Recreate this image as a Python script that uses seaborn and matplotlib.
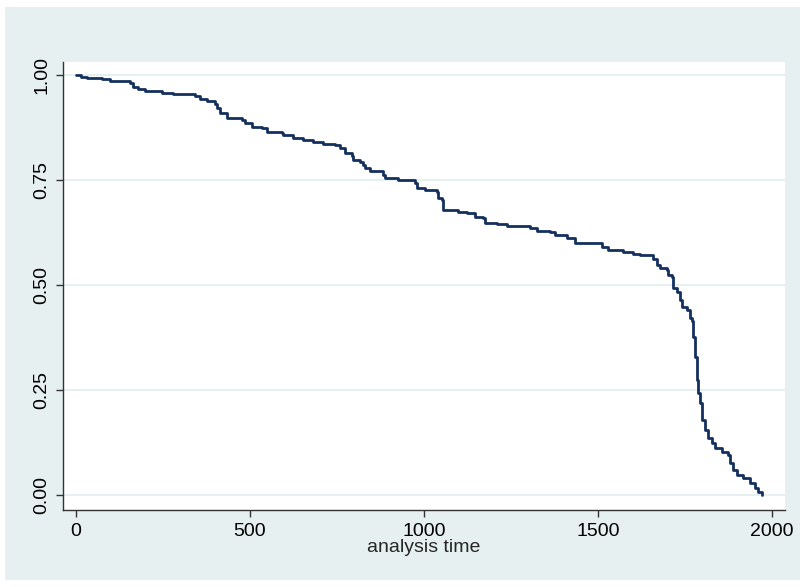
import numpy as np
import pandas as pd
import seaborn as sns
from matplotlib import pyplot as plt
from matplotlib.patches import Rectangle

# Kaplan-Meier estimate (step starts)
time = [0, 16, 31, 55, 74, 98, 155, 165, 178, 198, 247, 279, 307, 342, 356,
        376, 399, 405, 414, 434, 477, 486, 506, 534, 549, 592, 595, 624, 652,
        681, 710, 744, 759, 773, 793, 796, 816, 825, 830, 845, 882, 888, 925,
        974, 980, 1003, 1037, 1040, 1052, 1055, 1098, 1124, 1147, 1170, 1175,
        1210, 1239, 1284, 1305, 1325, 1362, 1376, 1411, 1434, 1511, 1529, 1572,
        1601, 1620, 1658, 1670, 1678, 1698, 1701, 1713, 1716, 1727, 1736, 1741,
        1756, 1764, 1770, 1773, 1779, 1784, 1787, 1793, 1799, 1807, 1816, 1828,
        1836, 1856, 1874, 1879, 1888, 1899, 1917, 1937, 1951, 1960, 1971]
survival = [1.0, 0.996, 0.994, 0.992, 0.990, 0.986, 0.982, 0.972, 0.966, 0.962,
            0.956, 0.955, 0.954, 0.950, 0.944, 0.937, 0.932, 0.921, 0.909, 0.897,
            0.893, 0.886, 0.876, 0.874, 0.864, 0.862, 0.857, 0.850, 0.845, 0.841,
            0.836, 0.833, 0.826, 0.814, 0.807, 0.798, 0.793, 0.786, 0.778, 0.772,
            0.762, 0.755, 0.750, 0.743, 0.731, 0.726, 0.722, 0.707, 0.702, 0.679,
            0.674, 0.671, 0.662, 0.660, 0.648, 0.645, 0.641, 0.640, 0.636, 0.629,
            0.626, 0.619, 0.612, 0.600, 0.590, 0.583, 0.579, 0.574, 0.571, 0.562,
            0.548, 0.540, 0.536, 0.524, 0.519, 0.493, 0.483, 0.464, 0.448, 0.440,
            0.421, 0.413, 0.376, 0.329, 0.274, 0.243, 0.219, 0.179, 0.155, 0.136,
            0.124, 0.112, 0.102, 0.095, 0.076, 0.060, 0.048, 0.040, 0.029, 0.017,
            0.007, 0.0]

x_ticks = [0, 500, 1000, 1500, 2000]
y_ticks = [0.0, 0.25, 0.5, 0.75, 1.0]
y_ticklabels = ["0.00", "0.25", "0.50", "0.75", "1.00"]

bg = "#e6f0f1"
line_col = "#14305e"

sns.set_theme(style="white")
plt.rcParams['font.family'] = ['Liberation Sans', 'DejaVu Sans']

fig = plt.figure(figsize=(8.04, 5.87), dpi=100, facecolor="white")
# stata-like graph region, behind the axes
fig.patches.append(Rectangle((5 / 804, 7 / 587), 795 / 804, 573 / 587,
                             transform=fig.transFigure, facecolor=bg,
                             edgecolor="none", zorder=-10))
ax = fig.add_axes([63 / 804, 1 - 510 / 587, 722 / 804, 448 / 587])
ax.set_facecolor("white")

df = pd.DataFrame({"analysis time": time, "S": survival})
sns.lineplot(data=df, x="analysis time", y="S", ax=ax, estimator=None,
             drawstyle="steps-post", color=line_col, linewidth=2.0, zorder=3)

ax.set_xlim(-37, 2037)
ax.set_ylim(-0.036, 1.031)
ax.set_xticks(x_ticks)
ax.set_yticks(y_ticks)
ax.set_yticklabels(y_ticklabels, rotation=90, va="center")
for y in y_ticks:
    ax.axhline(y, color=bg, linewidth=1.5, zorder=1)

for side in ["top", "right"]:
    ax.spines[side].set_visible(False)
for side in ["left", "bottom"]:
    ax.spines[side].set_color("#333333")
    ax.spines[side].set_linewidth(1.0)

ax.tick_params(axis="both", which="major", direction="out", length=5, width=1,
               color="#333333", labelsize=14, labelcolor="black", pad=4,
               left=True, bottom=True)
ax.set_xlabel("analysis time", fontsize=14, labelpad=0)
ax.set_ylabel("")

fig.savefig("out.png", dpi=100, facecolor=fig.get_facecolor())
